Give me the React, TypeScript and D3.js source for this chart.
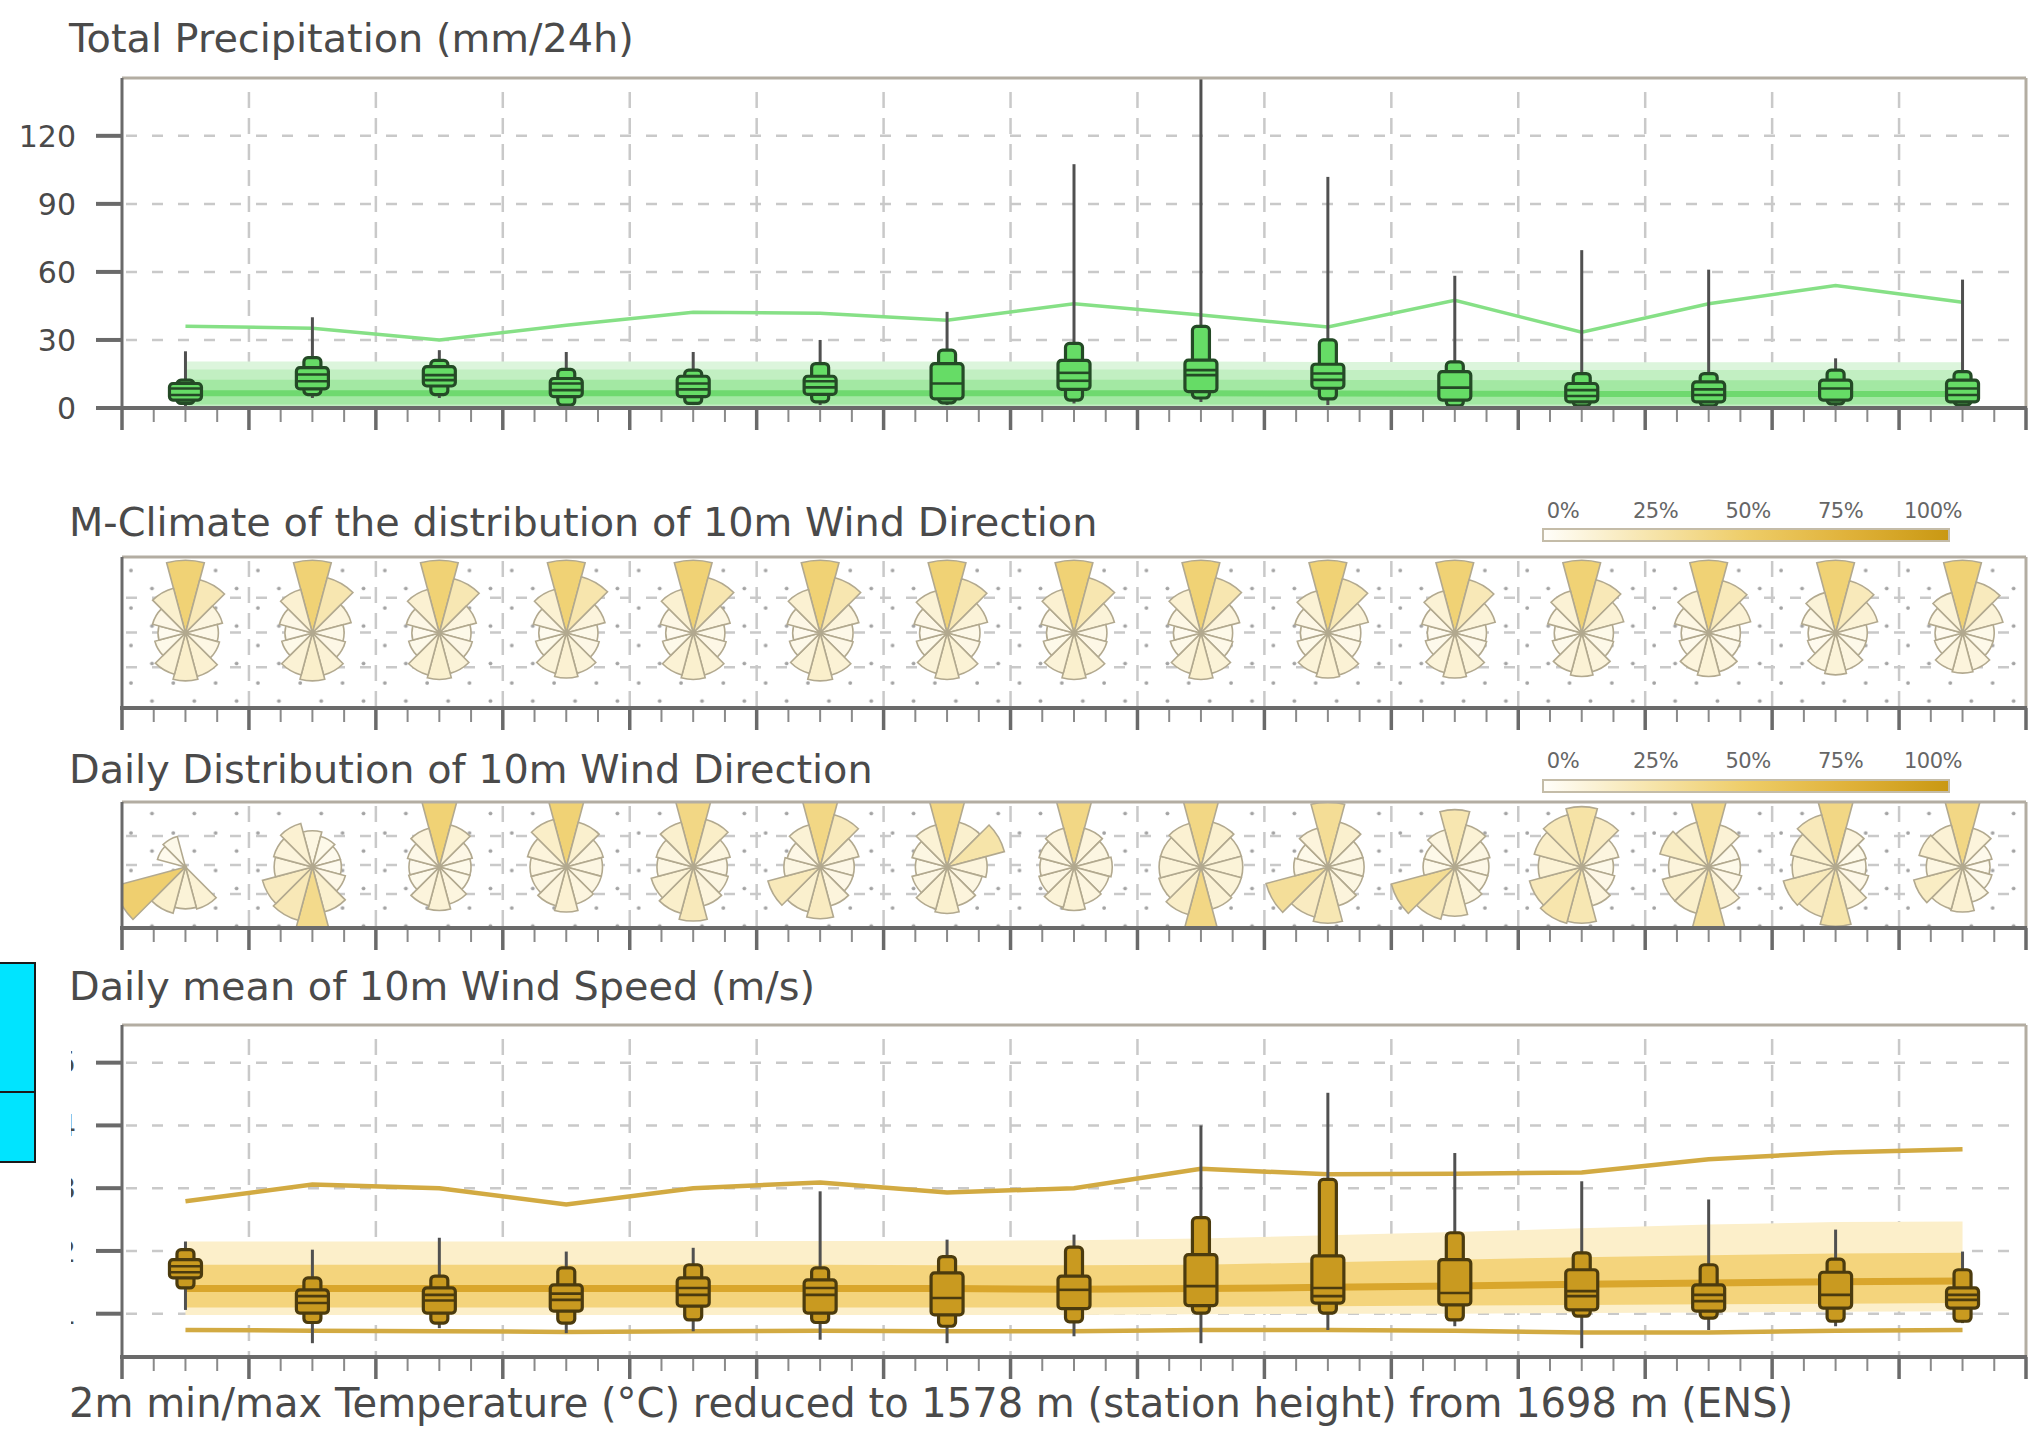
import React from "react";
import * as d3 from "d3";

// ---------- categories ----------
const dayIdx = [0, 1, 2, 3, 4, 5, 6, 7, 8, 9, 10, 11, 12, 13, 14];
const sectorDeg = [0, 30, 60, 90, 120, 150, 180, 210, 240, 270, 300, 330];
const precipTicks = [0, 30, 60, 90, 120];
const windTicks = [1, 2, 3, 4, 5];
const legendTicks = ["0%", "25%", "50%", "75%", "100%"];
const legendVals = [0, 25, 50, 75, 100];

// ---------- precipitation (mm/24h) ----------
const precipMax = [25, 40, 25.5, 24.7, 24.7, 30, 42.4, 107.5, 150, 101.9, 58.3, 69.6, 61, 21.9, 56.6];
const precipP90 = [12.3, 22.2, 21, 17, 16.7, 19.6, 25.5, 28.5, 36, 30, 20.3, 15.2, 15.2, 16.7, 16];
const precipP75 = [10.8, 17.8, 18.2, 13, 14, 14, 19.6, 21, 21.1, 19.3, 16, 10.8, 11.5, 12.3, 12.3];
const precipMed = [8.6, 14.8, 14.5, 10.8, 10.8, 11.8, 10.8, 15.5, 16.7, 15.2, 9, 7.9, 8.2, 8.6, 8.6];
const precipMean = [5.7, 11.8, 12.3, 7.9, 8.2, 9.1, NaN, 12, 14.5, 12.4, NaN, 5.3, 5.7, NaN, 5.7];
const precipP25 = [3.5, 8.4, 9.7, 5, 5, 6, 4, 8.2, 7.2, 8.7, 3.5, 2.7, 2.7, 3.5, 2.7];
const precipP10 = [2, 5.9, 5.9, 1.3, 2, 2.7, 2.3, 3.5, 4.4, 4, 0.9, 0.9, 0.9, 1.8, 1.3];
const precipMin = [0.6, 4.4, 4.4, 0.3, 1.3, 1.3, 1.3, 2, 2.7, 1.3, 0.3, 0.3, 0.3, 0.8, 0.6];
const precipClimMax = [36, 35.2, 30, 36.5, 42.2, 41.8, 38.7, 46, 41, 35.7, 47.5, 33.4, 46, 54, 46.6];
const precipClimTop = [20.5, 20.5, 20.5, 20.5, 20.5, 20.5, 20.5, 20.5, 20.5, 20.3, 20.3, 20.2, 20.2, 20.2, 20.2];
const precipClimHi = [17, 17, 17, 17, 17, 17, 17, 17, 17, 16.8, 16.8, 16.7, 16.7, 16.7, 16.7];
const precipClimQ75 = [12.5, 12.5, 12.5, 12.5, 12.5, 12.5, 12.5, 12.5, 12.5, 12.4, 12.3, 12.2, 12.2, 12.2, 12.2];
const precipClimMed = [6.5, 6.5, 6.5, 6.5, 6.5, 6.5, 6.5, 6.5, 6.5, 6.4, 6.3, 6.2, 6.2, 6.2, 6.2];
const precipClimLo = [1.5, 1.5, 1.5, 1.5, 1.5, 1.5, 1.5, 1.5, 1.5, 1.5, 1.5, 1.5, 1.5, 1.5, 1.5];

// ---------- wind speed (m/s) ----------
const windMax = [2.15, 2.02, 2.21, 1.99, 2.05, 2.95, 2.18, 2.26, 4.0, 4.52, 3.56, 3.11, 2.82, 2.34, 1.99];
const windP90 = [2.02, 1.57, 1.6, 1.73, 1.78, 1.73, 1.91, 2.06, 2.53, 3.14, 2.29, 1.97, 1.78, 1.87, 1.7];
const windP75 = [1.86, 1.38, 1.41, 1.46, 1.57, 1.54, 1.65, 1.6, 1.94, 1.92, 1.86, 1.7, 1.46, 1.66, 1.41];
const windMed = [1.755, 1.28, 1.3, 1.32, 1.41, 1.41, 1.25, 1.38, 1.44, 1.41, 1.33, 1.36, 1.3, 1.3, 1.3];
const windMean = [1.66, 1.17, 1.21, 1.22, 1.3, 1.3, NaN, NaN, NaN, 1.28, NaN, 1.28, 1.2, NaN, 1.22];
const windP25 = [1.57, 1.01, 1.01, 1.04, 1.12, 1.01, 0.98, 1.08, 1.13, 1.17, 1.14, 1.06, 1.04, 1.09, 1.09];
const windP10 = [1.41, 0.86, 0.85, 0.85, 0.9, 0.86, 0.8, 0.87, 1.01, 1.01, 0.9, 0.96, 0.93, 0.88, 0.88];
const windMin = [1.06, 0.53, 0.77, 0.69, 0.72, 0.585, 0.53, 0.64, 0.53, 0.74, 0.8, 0.45, 0.74, 0.8, 0.85];
const windClimMax = [2.79, 3.06, 3.0, 2.74, 3.0, 3.09, 2.93, 3.0, 3.31, 3.22, 3.23, 3.25, 3.46, 3.57, 3.62];
const windClimMin = [0.74, 0.73, 0.72, 0.71, 0.72, 0.73, 0.72, 0.72, 0.74, 0.74, 0.73, 0.7, 0.7, 0.73, 0.74];
const windClimTop = [2.15, 2.15, 2.15, 2.15, 2.16, 2.16, 2.16, 2.17, 2.2, 2.25, 2.3, 2.36, 2.42, 2.46, 2.47];
const windClimHi = [1.78, 1.78, 1.78, 1.78, 1.78, 1.78, 1.77, 1.77, 1.78, 1.82, 1.86, 1.9, 1.93, 1.96, 1.97];
const windClimMed = [1.4, 1.4, 1.4, 1.4, 1.4, 1.4, 1.4, 1.39, 1.4, 1.42, 1.44, 1.47, 1.49, 1.51, 1.52];
const windClimLo = [1.1, 1.1, 1.1, 1.1, 1.1, 1.1, 1.1, 1.1, 1.11, 1.12, 1.13, 1.14, 1.15, 1.16, 1.17];
const windClimBot = [0.98, 0.98, 0.98, 0.98, 0.98, 0.98, 0.98, 0.98, 0.99, 1.0, 1.0, 1.01, 1.02, 1.03, 1.04];

// ---------- wind direction frequency (%) per 30° sector, N first ----------
const mClimRose = [
  [40, 20, 8, 5.5, 6.5, 12, 14, 10.5, 5, 3.5, 6, 13],
  [40, 22, 9, 5, 6, 11, 14, 11, 5, 3.5, 6, 12],
  [40, 21, 8, 5, 6, 10, 13, 11, 5, 3.5, 6, 12],
  [40, 23, 9, 5, 6, 10, 12, 10, 5, 3.5, 6, 12],
  [40, 22, 8, 5, 6, 11, 13, 11, 5, 3.5, 6, 12],
  [40, 22, 9, 5.5, 6, 11, 14, 10, 5, 3.5, 6, 12],
  [40, 21, 10, 5.5, 6, 11, 13, 10, 5, 3.5, 6, 11],
  [40, 22, 10, 5.5, 6, 11, 13, 10, 5, 3.5, 6, 12],
  [40, 22, 9, 5, 5.5, 10, 13, 10, 5, 3.5, 6, 12],
  [40, 21, 10, 5.5, 6, 11, 12, 10, 5, 3.5, 6, 11],
  [40, 20, 10, 5, 5.5, 10, 12, 9.5, 4.5, 3.5, 6, 11],
  [40, 20, 11, 5, 5.5, 9, 11, 9, 4.5, 3.5, 6.5, 11],
  [40, 19, 11, 5, 5.5, 9, 11, 9, 4.5, 3.5, 6.5, 11],
  [40, 19, 11, 5, 5, 8, 10, 8.5, 4, 3.5, 6.5, 10],
  [40, 18, 10, 5, 5, 8, 9, 8, 4, 3.5, 6.5, 10],
];
const dailyRose = [
  [0, 0, 0, 0, 0, 11, 10, 14, 42, 0, 4, 5],
  [7, 5, 4, 4, 6, 13, 33, 20, 17, 8, 9, 12],
  [40, 11, 6, 5, 5, 8, 11, 9, 5, 4.5, 5.5, 9],
  [40, 13, 8, 7, 7, 8, 12, 9, 7, 7, 9, 15],
  [35, 15, 8, 6, 7, 9, 19, 14, 11, 7, 8, 13],
  [35, 19, 9, 6, 6, 9, 17, 13, 19, 7, 6, 11],
  [35, 13, 24, 9, 7, 9, 13, 11, 7, 5, 7, 11],
  [35, 9, 7, 8, 7, 8, 11, 10, 7, 6, 7, 9],
  [35, 13, 10, 10, 10, 11, 35, 15, 11, 10, 10, 12],
  [30, 13, 7, 7, 7, 9, 21, 17, 29, 6, 5, 9],
  [22, 11, 7, 6, 6, 8, 15, 19, 31, 5, 5, 8],
  [25, 17, 8, 5, 6, 9, 21, 23, 19, 11, 15, 19],
  [35, 11, 5, 5, 6, 11, 29, 14, 14, 9, 16, 13],
  [35, 9, 5, 4.5, 6, 11, 24, 17, 19, 11, 13, 19],
  [35, 9, 4.5, 3.5, 4.5, 7, 12, 11, 16, 7, 12, 11],
];

// ---------- layout ----------
const L = 122, R = 2026;
const P = { top: 78, bottom: 408 };
const MC = { top: 557, bottom: 708, cy: 633 };
const DD = { top: 802, bottom: 928, cy: 867 };
const WS = { top: 1025, bottom: 1357 };

const x = d3.scaleLinear().domain([0, 15]).range([L, R]);
const yP = d3.scaleLinear().domain([0, 145.5]).range([P.bottom, P.top]);
const yW = d3.scaleLinear().domain([0.31, 5.6]).range([WS.bottom, WS.top]);
const rRose = d3.scalePow().exponent(0.4).domain([0, 100]).range([0, 105]);
const roseColors = ["#fffefa", "#f7e6b0", "#eecd68", "#e0b23a", "#c99812"];
const roseColor = d3.scaleLinear<string>().domain([0, 22, 44, 70, 100]).range(roseColors);
const arcGen = d3.arc<any>();

const TXT = "#4a4a4a";
const GRID = "#c9c9c9";
const AX = "#6a6a6a";
const FRAME = "#b3ada2";
const TITLE = 39.8;

function VGrid({ top, bottom }: { top: number; bottom: number }) {
  return (
    <g>
      {d3.range(1, 15).map((d) => (
        <line key={d} x1={x(d)} x2={x(d)} y1={top + 14} y2={bottom} stroke={GRID} strokeWidth={2.5} strokeDasharray="16,10" />
      ))}
    </g>
  );
}

function HGrid({ ys }: { ys: number[] }) {
  return (
    <g>
      {ys.map((y, i) => (
        <line key={i} x1={L + 4} x2={R - 4} y1={y} y2={y} stroke={GRID} strokeWidth={2.5} strokeDasharray="11,15" />
      ))}
    </g>
  );
}

function Frame({ top, bottom }: { top: number; bottom: number }) {
  return (
    <g>
      <line x1={L} x2={R} y1={top} y2={top} stroke={FRAME} strokeWidth={3} />
      <line x1={R} x2={R} y1={top} y2={bottom} stroke={FRAME} strokeWidth={3} />
      <line x1={L} x2={L} y1={top} y2={bottom} stroke={AX} strokeWidth={3} />
      <line x1={L - 2} x2={R + 1} y1={bottom} y2={bottom} stroke={AX} strokeWidth={4} />
    </g>
  );
}

function XTicks({ y }: { y: number }) {
  const minors = d3.range(0, 15, 0.25).filter((d) => Math.abs(d - Math.round(d)) > 0.01);
  return (
    <g>
      {d3.range(0, 16).map((d) => (
        <line key={"M" + d} x1={x(d)} x2={x(d)} y1={y} y2={y + 22} stroke={AX} strokeWidth={3.5} />
      ))}
      {minors.map((d) => (
        <line key={"m" + d} x1={x(d)} x2={x(d)} y1={y + 2} y2={y + 14} stroke="#8a8a8a" strokeWidth={2} />
      ))}
    </g>
  );
}

function Boxes(props: {
  y: d3.ScaleLinear<number, number>;
  mx: number[]; p90: number[]; p75: number[]; med: number[]; mean: number[]; p25: number[]; p10: number[]; mn: number[];
  fill: string; stroke: string;
}) {
  const { y, fill, stroke } = props;
  return (
    <g>
      {dayIdx.map((i) => {
        const cx = x(i + 0.5);
        const wW = 32, nW = 17;
        return (
          <g key={i}>
            <line x1={cx} x2={cx} y1={y(props.mn[i])} y2={y(props.mx[i])} stroke="#505050" strokeWidth={3} />
            <rect x={cx - nW / 2} width={nW} y={y(props.p90[i])} height={y(props.p10[i]) - y(props.p90[i])} rx={4} fill={fill} stroke={stroke} strokeWidth={3.2} />
            <rect x={cx - wW / 2} width={wW} y={y(props.p75[i])} height={y(props.p25[i]) - y(props.p75[i])} rx={3.5} fill={fill} stroke={stroke} strokeWidth={3.2} />
            <line x1={cx - wW / 2} x2={cx + wW / 2} y1={y(props.med[i])} y2={y(props.med[i])} stroke={stroke} strokeWidth={2.6} />
            {!isNaN(props.mean[i]) && (
              <line x1={cx - wW / 2} x2={cx + wW / 2} y1={y(props.mean[i])} y2={y(props.mean[i])} stroke={stroke} strokeWidth={2.6} />
            )}
          </g>
        );
      })}
    </g>
  );
}

function Roses({ data, cy, clip }: { data: number[][]; cy: number; clip: string }) {
  return (
    <g clipPath={`url(#${clip})`}>
      {dayIdx.map((i) => (
        <g key={i} transform={`translate(${x(i + 0.5)},${cy})`}>
          {sectorDeg.map((deg, j) => {
            const p = data[i][j];
            if (!p) return null;
            const d = arcGen({
              innerRadius: 0,
              outerRadius: rRose(p),
              startAngle: ((deg - 15) * Math.PI) / 180,
              endAngle: ((deg + 15) * Math.PI) / 180,
            });
            return <path key={j} d={d || ""} fill={roseColor(p)} stroke="#b2a98f" strokeWidth={1.6} />;
          })}
        </g>
      ))}
    </g>
  );
}

function Legend({ yLab, yBar }: { yLab: number; yBar: number }) {
  const lx = d3.scaleLinear().domain([0, 100]).range([1563, 1933]);
  return (
    <g>
      {legendTicks.map((t, k) => (
        <text key={t} x={lx(legendVals[k])} y={yLab} textAnchor="middle" fontSize={21} fill="#666" letterSpacing={-0.5}>
          {t}
        </text>
      ))}
      <rect x={1543} y={yBar} width={406} height={12} fill="url(#roseGrad)" stroke="#c4bca8" strokeWidth={2} />
    </g>
  );
}

function RosePanel({ pan }: { pan: { top: number; bottom: number; cy: number } }) {
  const h = pan.bottom - pan.top;
  return (
    <g>
      <rect x={L} y={pan.top} width={R - L} height={h} fill={`url(#dots)`} />
      <HGrid ys={[pan.top + h * 0.27, pan.top + h * 0.5, pan.top + h * 0.73]} />
      <VGrid top={pan.top - 10} bottom={pan.bottom} />
    </g>
  );
}

export default function App() {
  const xc = (i: number) => x(i + 0.5);
  const line = (acc: number[], y: d3.ScaleLinear<number, number>) =>
    d3.line<number>().x((i) => xc(i)).y((i) => y(acc[i]))(dayIdx) || "";
  const area = (lo: number[], hi: number[], y: d3.ScaleLinear<number, number>) =>
    d3.area<number>().x((i) => xc(i)).y0((i) => y(lo[i])).y1((i) => y(hi[i]))(dayIdx) || "";
  const zeros = dayIdx.map(() => 0);

  return (
    <svg
      width={2036}
      height={1440}
      style={{ position: "absolute", left: 0, top: 0, background: "#fff" }}
      fontFamily="'DejaVu Sans', Verdana, sans-serif"
    >
      <defs>
        <clipPath id="clipP"><rect x={L} y={P.top} width={R - L} height={P.bottom - P.top} /></clipPath>
        <clipPath id="clipMC"><rect x={L} y={MC.top} width={R - L} height={MC.bottom - MC.top} /></clipPath>
        <clipPath id="clipDD"><rect x={L} y={DD.top} width={R - L} height={DD.bottom - DD.top} /></clipPath>
        <clipPath id="clipWS"><rect x={L} y={WS.top} width={R - L} height={WS.bottom - WS.top} /></clipPath>
        <clipPath id="clipWLab"><rect x={71} y={WS.top - 20} width={10} height={WS.bottom - WS.top + 40} /></clipPath>
        <linearGradient id="roseGrad" x1="0" x2="1" y1="0" y2="0">
          {roseColors.map((c, k) => (
            <stop key={k} offset={`${legendVals[k]}%`} stopColor={c} />
          ))}
        </linearGradient>
        <pattern id="dots" patternUnits="userSpaceOnUse" x={L} y={0} width={42.31} height={37.5}>
          <circle cx={9} cy={8} r={1.9} fill="#a3a3a3" />
          <circle cx={30} cy={26} r={1.9} fill="#a3a3a3" />
        </pattern>
      </defs>

      {/* ===== Total precipitation ===== */}
      <text x={69} y={52} fontSize={TITLE} fill={TXT}>Total Precipitation (mm/24h)</text>
      <HGrid ys={precipTicks.slice(1).map((v) => yP(v))} />
      <VGrid top={P.top} bottom={P.bottom} />
      <g clipPath="url(#clipP)">
        <path d={area(zeros, precipClimTop, yP)} fill="#dcf5dc" />
        <path d={area(zeros, precipClimHi, yP)} fill="#c2efc2" />
        <path d={area(precipClimLo, precipClimQ75, yP)} fill="#a3e8a3" />
        <path d={line(precipClimMed, yP)} fill="none" stroke="#6fd96f" strokeWidth={6} />
        <path d={line(precipClimMax, yP)} fill="none" stroke="#86e086" strokeWidth={3.5} />
        <Boxes y={yP} mx={precipMax} p90={precipP90} p75={precipP75} med={precipMed} mean={precipMean} p25={precipP25} p10={precipP10} mn={precipMin} fill="#66dc66" stroke="#244a26" />
      </g>
      <Frame top={P.top} bottom={P.bottom} />
      {precipTicks.map((v) => (
        <g key={v}>
          <line x1={96} x2={L} y1={yP(v)} y2={yP(v)} stroke={AX} strokeWidth={4} />
          <text x={76} y={yP(v)} dy="0.36em" textAnchor="end" fontSize={30} fill={TXT}>{v}</text>
        </g>
      ))}
      <XTicks y={P.bottom} />

      {/* ===== M-Climate wind direction ===== */}
      <text x={69} y={536} fontSize={TITLE} fill={TXT}>M-Climate of the distribution of 10m Wind Direction</text>
      <Legend yLab={518} yBar={529} />
      <RosePanel pan={MC} />
      <Roses data={mClimRose} cy={MC.cy} clip="clipMC" />
      <Frame top={MC.top} bottom={MC.bottom} />
      <XTicks y={MC.bottom} />

      {/* ===== Daily wind direction ===== */}
      <text x={69} y={783} fontSize={TITLE} fill={TXT}>Daily Distribution of 10m Wind Direction</text>
      <Legend yLab={768} yBar={780} />
      <RosePanel pan={DD} />
      <Roses data={dailyRose} cy={DD.cy} clip="clipDD" />
      <Frame top={DD.top} bottom={DD.bottom} />
      <XTicks y={DD.bottom} />

      {/* ===== Wind speed ===== */}
      <text x={69} y={1000} fontSize={TITLE} fill={TXT}>Daily mean of 10m Wind Speed (m/s)</text>
      <HGrid ys={windTicks.map((v) => yW(v))} />
      <VGrid top={WS.top} bottom={WS.bottom} />
      <g clipPath="url(#clipWS)">
        <path d={area(windClimBot, windClimTop, yW)} fill="#fcefca" />
        <path d={area(windClimLo, windClimHi, yW)} fill="#f4d47c" />
        <path d={line(windClimMed, yW)} fill="none" stroke="#d9a62c" strokeWidth={7} />
        <path d={line(windClimMax, yW)} fill="none" stroke="#d2aa42" strokeWidth={4.5} />
        <path d={line(windClimMin, yW)} fill="none" stroke="#d2aa42" strokeWidth={4.5} />
        <Boxes y={yW} mx={windMax} p90={windP90} p75={windP75} med={windMed} mean={windMean} p25={windP25} p10={windP10} mn={windMin} fill="#c99a20" stroke="#4b3b0e" />
      </g>
      <Frame top={WS.top} bottom={WS.bottom} />
      {windTicks.map((v) => (
        <line key={v} x1={96} x2={L} y1={yW(v)} y2={yW(v)} stroke={AX} strokeWidth={4} />
      ))}
      <g clipPath="url(#clipWLab)">
        {windTicks.map((v) => (
          <text key={v} x={76} y={yW(v)} dy="0.36em" textAnchor="end" fontSize={30} fill={TXT}>{v}</text>
        ))}
      </g>
      <XTicks y={WS.bottom} />

      {/* cyan marker */}
      <rect x={-2} y={963} width={37} height={199} fill="#00e4ff" stroke="#1a1a1a" strokeWidth={2} />
      <line x1={0} x2={35} y1={1092} y2={1092} stroke="#1a1a1a" strokeWidth={2} />

      <text x={69} y={1417} fontSize={40} fill={TXT}>
        2m min/max Temperature (°C) reduced to 1578 m (station height) from 1698 m (ENS)
      </text>
    </svg>
  );
}
